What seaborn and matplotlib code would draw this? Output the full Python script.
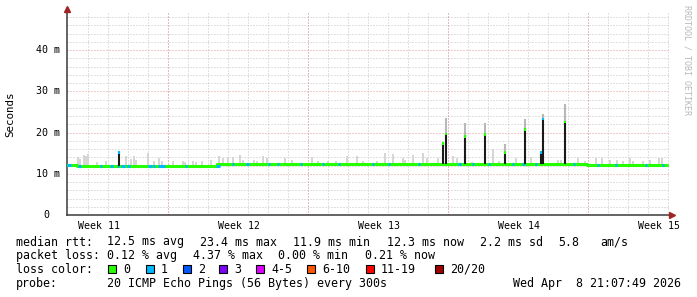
import numpy as np
import pandas as pd
import matplotlib
matplotlib.use("Agg")
import matplotlib.pyplot as plt
import seaborn as sns
from matplotlib.patches import Rectangle

# ---------------- data (x in days from left edge of graph) ----------------
median_day = np.arange(61) * 0.5
median_ms = [12.2, 12.0, 12.0, 12.0, 12.0, 12.0, 12.0, 12.0, 12.0, 11.95,
             11.9, 11.9, 11.95, 11.9, 11.95, 12.3, 12.35, 12.35, 12.3, 12.35,
             12.35, 12.4, 12.35, 12.35, 12.3, 12.35, 12.35, 12.35, 12.4, 12.35,
             12.35, 12.3, 12.35, 12.35, 12.35, 12.4, 12.35, 12.3, 12.35, 12.35,
             12.35, 12.35, 12.3, 12.35, 12.4, 12.35, 12.35, 12.4, 12.4, 12.35,
             12.3, 12.3, 12.15, 12.1, 12.1, 12.05, 12.1, 12.05, 12.1, 12.15, 12.1]

loss1_start = [0.0, 0.55, 1.65, 2.15, 2.5, 2.7, 3.0, 4.05, 4.3, 4.55, 5.9, 7.45,
               8.25, 8.95, 10.05, 10.5, 11.65, 12.75, 13.55, 15.25, 16.05, 17.55,
               19.55, 20.25, 21.05, 22.25, 22.75, 23.4, 25.3, 26.5, 27.4, 28.9, 29.75]
loss1_end = [0.2, 0.7, 1.75, 2.3, 2.6, 2.9, 3.15, 4.25, 4.4, 4.9, 6.0, 7.65,
             8.35, 9.1, 10.15, 10.6, 11.75, 12.85, 13.65, 15.35, 16.15, 17.65,
             19.7, 20.35, 21.15, 22.35, 22.9, 23.5, 25.4, 26.6, 27.5, 29.0, 29.85]

spike_day = [2.62, 18.82, 18.97, 19.9, 20.9, 21.9, 22.92, 23.7, 23.82, 24.9]
spike_top = [15.4, 17.6, 19.9, 19.3, 19.8, 15.4, 21.0, 15.4, 23.6, 22.9]
spike_smoke = [15.6, 17.6, 23.4, 22.4, 22.4, 17.1, 23.2, 15.4, 24.4, 26.8]
spike_loss = [1, 0, 0, 0, 0, 0, 0, 1, 1, 0]

smoke_day = [0.55, 0.65, 0.85, 0.95, 1.05, 1.5, 1.95, 2.95, 3.2, 3.35, 3.45, 4.05,
             4.35, 4.6, 4.75, 5.3, 5.8, 5.9, 6.3, 6.45, 6.75, 7.2, 7.6, 7.8,
             8.05, 8.3, 8.65, 8.8, 9.35, 9.5, 9.8, 10.0, 10.9, 11.25, 12.25, 12.55,
             13.05, 13.45, 14.0, 14.5, 14.8, 15.5, 15.9, 16.3, 16.8, 16.9, 17.3, 17.8,
             18.0, 18.55, 19.3, 19.5, 20.25, 21.3, 21.6, 22.45, 23.2, 24.55, 24.7,
             25.55, 25.9, 26.45, 26.75, 27.15, 27.5, 27.8, 28.15, 28.3, 28.8, 29.15,
             29.6, 29.75]
smoke_top = [14.1, 13.6, 14.6, 14.2, 14.8, 12.9, 13.0, 14.4, 13.6, 14.2, 13.4, 15.1,
             13.2, 13.7, 13.2, 13.0, 13.0, 12.9, 13.0, 12.9, 13.0, 13.4, 14.4, 13.9,
             14.1, 14.1, 14.6, 13.4, 13.4, 13.2, 14.4, 13.7, 13.7, 13.4, 14.1, 13.0,
             13.0, 13.2, 14.4, 14.4, 13.2, 13.0, 15.1, 14.9, 13.7, 13.4, 14.6, 15.1,
             13.9, 13.9, 14.4, 13.9, 12.9, 15.9, 13.2, 13.9, 14.1, 13.4, 13.4,
             13.9, 13.2, 13.9, 13.7, 13.4, 13.4, 13.2, 13.9, 13.2, 13.2, 13.4,
             13.9, 13.9]

week_day = [1.6, 8.6, 15.6, 22.6, 29.6]
week_labels = ["Week 11", "Week 12", "Week 13", "Week 14", "Week 15"]
y_ticks = [0, 10, 20, 30, 40]
y_ticklabels = ["0", "10 m", "20 m", "30 m", "40 m"]

loss_labels = ["0", "1", "2", "3", "4-5", "6-10", "11-19", "20/20"]
loss_colors = ["#26ff00", "#00b8ff", "#0059ff", "#7e00ff", "#dd00ff",
               "#ff5500", "#ff0000", "#a10000"]

# ---------------- figure ----------------
sns.set_style("white")
plt.rcParams['font.family'] = ['DejaVu Sans Mono', 'DejaVu Sans']

W, H = 697, 297
L, R, B, T = 67, 669, 215, 12
PX_PER_MS = 4.125
fig = plt.figure(figsize=(W / 100, H / 100), dpi=100)
fig.patch.set_facecolor("white")
ax = fig.add_axes([L / W, 1 - B / H, (R - L) / W, (B - T) / H])
ax.set_facecolor("white")
ax.set_xlim(0, (R - L) / 20)
ax.set_ylim(0, (B - T) / PX_PER_MS)

dot = (0, (1, 2))
ax.set_yticks(y_ticks)
ax.set_yticklabels([""] * len(y_ticks))
ax.set_yticks(np.arange(0, 49, 2), minor=True)
ax.yaxis.grid(True, which='minor', color='#c4c4c4', linestyle=dot, lw=0.72)
ax.yaxis.grid(True, which='major', color='#e49a9a', linestyle=dot, lw=0.72)
ax.set_xticks(week_day, week_labels)
ax.set_xticks(np.arange(1.05, 30.1, 1), minor=True)
ax.xaxis.grid(True, which='minor', color='#c4c4c4', linestyle=dot, lw=0.72)
ax.xaxis.grid(False, which='major')
for d in np.arange(5.05, 30.1, 7):
    ax.axvline(d, color='#e49a9a', linestyle=dot, lw=0.72, zorder=0.6)
ax.set_axisbelow(True)

ax.tick_params(axis='x', which='major', length=0, pad=4.5, labelsize=7.1,
               labelcolor='#000000')
ax.tick_params(axis='x', which='minor', length=2, width=0.7, color='#555555',
               direction='out')
ax.tick_params(axis='y', which='major', length=3, width=0.7, color='#555555',
               direction='out')
ax.tick_params(axis='y', which='minor', length=2, width=0.7, color='#555555',
               direction='out')
for s in ['top', 'right']:
    ax.spines[s].set_visible(False)
for s in ['left', 'bottom']:
    ax.spines[s].set_color('#3a3a3a')
    ax.spines[s].set_linewidth(1.1)

# y tick labels (rrdtool style alignment)
for v, lab in zip(y_ticks, y_ticklabels):
    xr = (60 - L) / (R - L) if lab != "0" else (49 - L) / (R - L)
    ax.text(xr, v, lab, transform=ax.get_yaxis_transform(), ha='right',
            va='center', fontsize=7.2, color='#000000')

# smoke above median
med_arr = np.array(median_ms)
def med_at(d):
    idx = np.clip(np.floor(np.asarray(d) / 0.5).astype(int), 0, len(med_arr) - 1)
    return med_arr[idx]

sd = np.array(smoke_day)
sbase = med_at(sd)
ax.bar(sd, np.array(smoke_top) - sbase, bottom=sbase, width=0.1,
       color='#d6d6d6', edgecolor='none', zorder=2)

# median line (loss 0)
df = pd.DataFrame({"day": median_day, "median": median_ms})
sns.lineplot(data=df, x="day", y="median", drawstyle='steps-post',
             color=loss_colors[0], lw=2.2, ax=ax, zorder=4, errorbar=None)

# loss 1 segments
ls = np.array(loss1_start)
le = np.array(loss1_end)
ax.hlines(med_at(ls), ls, le, color=loss_colors[1], lw=2.2, zorder=5)

# spikes
sp = np.array(spike_day)
sb = med_at(sp)
st = np.array(spike_top)
ss = np.array(spike_smoke)
ax.vlines(sp, st, np.maximum(ss, st), color='#b8b8b8', lw=1.5, zorder=3)
ax.vlines(sp, sb, st, color='#1a1a1a', lw=1.5, zorder=6)
ax.vlines(sp, st - 0.55, st, color=[loss_colors[k] for k in spike_loss],
          lw=1.5, zorder=7)

# axis arrows
ax.plot([0], [1 + 3.5 / (B - T)], transform=ax.transAxes, marker='^',
        ms=4.5, color='#a02424', clip_on=False, zorder=10)
ax.plot([1 + 3.0 / (R - L)], [0], transform=ax.transAxes, marker='>',
        ms=4.5, color='#a02424', clip_on=False, zorder=10)

# y label and watermark
fig.text(10.7 / W, 1 - 114 / H, "Seconds", rotation=90, ha='center',
         va='center', fontsize=7.8, color='#000000')
fig.text(687.5 / W, 1 - 60 / H, "RRDTOOL / TOBI OETIKER", rotation=270,
         ha='center', va='center', fontsize=6.0, color='#b8b8b8')

# legend text
fs = 8.4
def ftext(x, y, s, **kw):
    fig.text(x / W, 1 - y / H, s, fontsize=fs, va='baseline', color='#000000', **kw)

y1, y2, y3, y4 = 245.5, 259.2, 272.9, 286.6
ftext(16, y1, "median rtt:")
for x, s in zip([107, 200, 293, 387, 480, 558, 600],
                ["12.5 ms avg", "23.4 ms max", "11.9 ms min", "12.3 ms now",
                 "2.2 ms sd", "5.8", "am/s"]):
    ftext(x, y1, s)
ftext(16, y2, "packet loss:")
for x, s in zip([107, 193, 278, 365],
                ["0.12 % avg", "4.37 % max", "0.00 % min", "0.21 % now"]):
    ftext(x, y2, s)
ftext(16, y3, "loss color:")
box_x = [108, 146, 183, 219, 256, 307, 366, 435]
for x, lab, c in zip(box_x, loss_labels, loss_colors):
    fig.patches.append(Rectangle((x / W, 1 - 273 / H), 8 / W, 8 / H,
                                 transform=fig.transFigure, facecolor=c,
                                 edgecolor='#000000', lw=0.8))
    ftext(x + 15, y3, lab)
ftext(16, y4, "probe:")
ftext(107, y4, "20 ICMP Echo Pings (56 Bytes) every 300s")
ftext(681, y4, "Wed Apr  8 21:07:49 2026", ha='right')

ax.set_xlabel("")
ax.set_ylabel("")
fig.savefig("out.png", dpi=100, facecolor="white")
